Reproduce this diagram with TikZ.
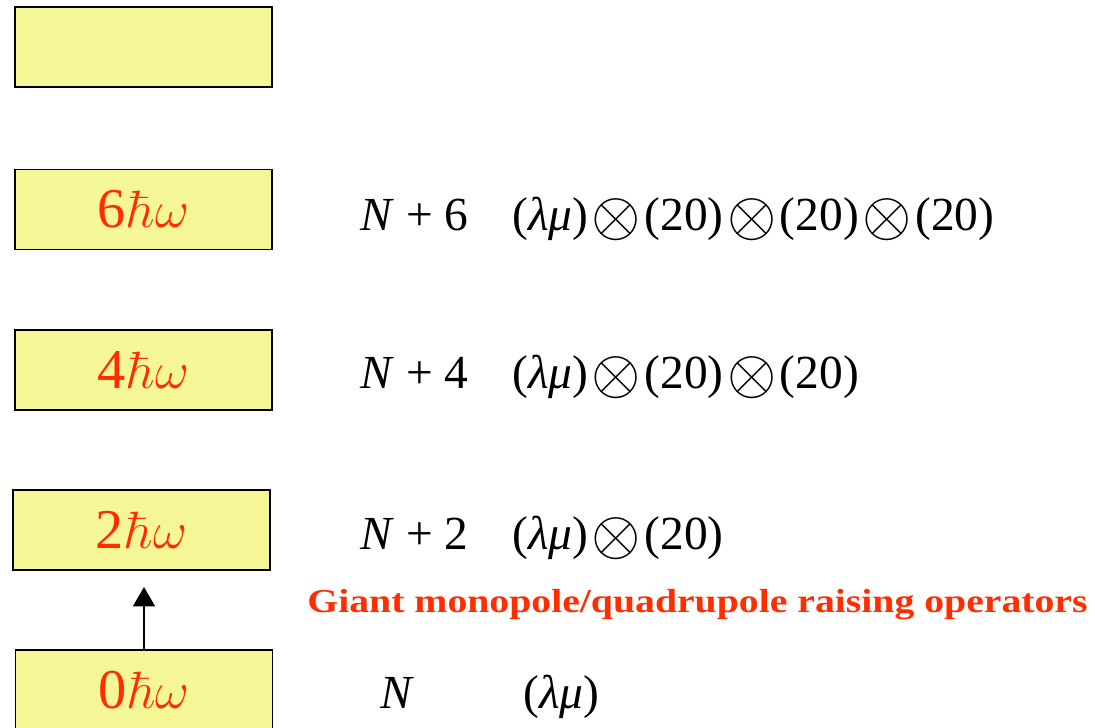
\documentclass[tikz,border=0pt]{standalone}
\usepackage[no-math]{fontspec}
\setmainfont{Liberation Serif}
\usetikzlibrary{arrows.meta}
\definecolor{levelfill}{RGB}{245,246,150}
\definecolor{labelred}{RGB}{255,45,0}
\newcommand{\tprod}{\hspace{2pt}\raisebox{-0.11em}{\scalebox{1.45}{$\otimes$}}\hspace{2pt}}
\newcommand{\quanta}[1]{#1\hspace{1pt}\scalebox{1.2}{$\hbar\omega$}}

\begin{document}
\begin{tikzpicture}[x=0.02cm, y=-0.02cm,
    level/.style={draw, line width=1.1pt, fill=levelfill, minimum width=5.14cm,
      minimum height=1.6cm, inner sep=0pt, text=labelred,
      font=\fontsize{32}{38}\selectfont},
    rowtext/.style={anchor=base west, inner sep=0pt, font=\fontsize{27}{32}\selectfont}]
        \useasboundingbox (0,0) rectangle (1095,727);

        % Draw oscillator shells
        \node[level] (top) at (143.5,47) {};
        \node[level] (six) at (143.5,209.5) {\quanta{6}};
        \node[level] (four) at (143.5,370) {\quanta{4}};
        \node[level] (two) at (141.5,530) {\quanta{2}};
        \node[level] (zero) at (144,690) {\quanta{0}};

        % Draw raising arrow
        \coordinate (tip) at (144,587);
        \draw[line width=1.1pt, -{Triangle[length=11pt, width=12.5pt]}] (zero.north) -- (tip);

        % Draw quantum numbers
        \node[rowtext] (nsix) at (360,230) {\textit{N} + 6};
        \node[rowtext] (irsix) at (512,230) {(\textit{λμ})\tprod(20)\tprod(20)\tprod(20)};
        \node[rowtext] (nfour) at (360,388) {\textit{N} + 4};
        \node[rowtext] (irfour) at (512,388) {(\textit{λμ})\tprod(20)\tprod(20)};
        \node[rowtext] (ntwo) at (360,549) {\textit{N} + 2};
        \node[rowtext] (irtwo) at (512,549) {(\textit{λμ})\tprod(20)};
        \node[rowtext] (nzero) at (380,708) {\textit{N}};
        \node[rowtext] (irzero) at (523,708) {(\textit{λμ})};

        % Draw operator label
        \node[anchor=base west, inner sep=0pt, text=labelred, font=\bfseries\fontsize{19}{23}\selectfont]
          (ops) at (307,612) {\scalebox{1.19}[1]{Giant monopole/quadrupole raising operators}};
\end{tikzpicture}
\end{document}
